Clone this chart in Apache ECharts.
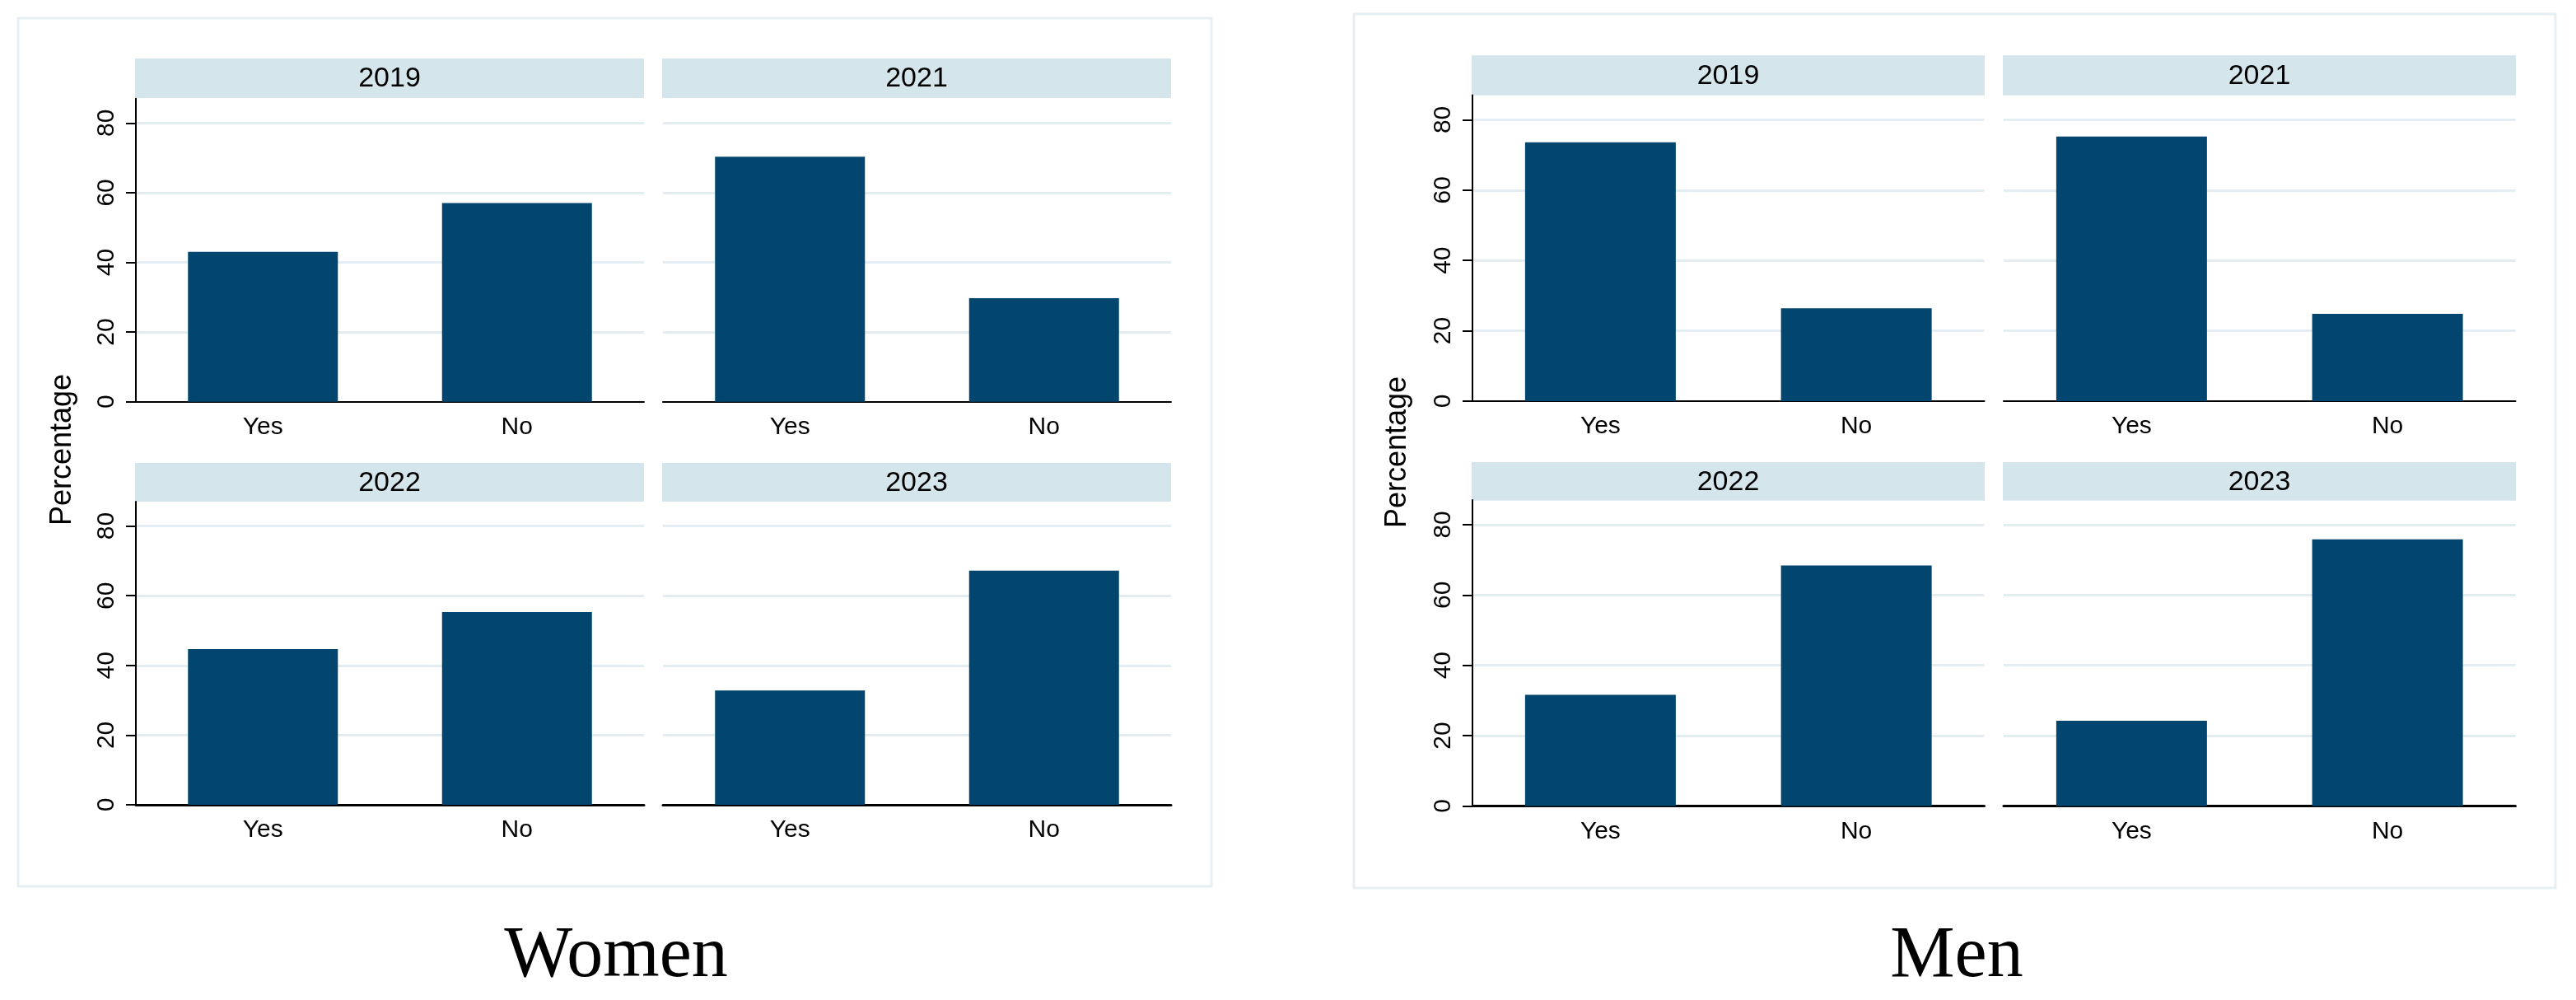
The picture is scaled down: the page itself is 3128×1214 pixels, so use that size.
<!DOCTYPE html>
<html>
<head>
<meta charset="utf-8">
<script src="https://cdn.jsdelivr.net/npm/echarts@6/dist/echarts.min.js"></script>
<style>
html,body{margin:0;padding:0;background:#fff;}
#c{width:3128px;height:1214px;}
</style>
</head>
<body>
<div id="c"></div>
<script>
// ---- data ----
const categories = ['Yes', 'No'];
const years = ['2019', '2021', '2022', '2023'];
const yTicks = [0, 20, 40, 60, 80];
const women2019 = [43.0, 57.0];
const women2021 = [70.3, 29.7];
const women2022 = [44.7, 55.3];
const women2023 = [32.8, 67.2];
const men2019 = [73.6, 26.4];
const men2021 = [75.2, 24.8];
const men2022 = [31.6, 68.4];
const men2023 = [24.2, 75.8];
const groupTitles = ['Women', 'Men'];
const yTitle = 'Percentage';

// ---- layout ----
const SANS = "'Liberation Sans', Arial, Helvetica, sans-serif";
const SERIF = "'Liberation Serif', 'Times New Roman', serif";
const BAR = '#02466f';
const GRIDC = '#e4edf1';
const STRIP = '#d5e5ec';
const BOX = '#e6eff3';
const YMAX = 87;

const groups = [
  { title: groupTitles[0], series: [women2019, women2021, women2022, women2023],
    box: [22, 22, 1449, 1054], titleX: 748, titleY: 1162,
    ytX: 76, ytY: 546,
    colX: [165, 805], colW: 617, rowTop: [119.7, 609], rowH: 368,
    stripX: [164, 804], stripW: 618, stripY: [71, 562], stripH: [48, 47], barW: 182 },
  { title: groupTitles[1], series: [men2019, men2021, men2022, men2023],
    box: [1644, 17, 1459, 1061], titleX: 2376, titleY: 1162,
    ytX: 1697, ytY: 549,
    colX: [1788, 2433], colW: 621.5, rowTop: [115.5, 607], rowH: 371.4,
    stripX: [1787, 2432], stripW: 623, stripY: [67.3, 561], stripH: [48.4, 46.7], barW: 183 }
];

const grid = [], xAxis = [], yAxis = [], series = [], graphic = [];
let idx = 0;
groups.forEach(g => {
  graphic.push({ type: 'rect', z: -10, shape: { x: g.box[0], y: g.box[1], width: g.box[2], height: g.box[3] },
    style: { fill: '#fff', stroke: BOX, lineWidth: 3 } });
  graphic.push({ type: 'text', x: g.titleX, y: g.titleY,
    style: { text: g.title, font: '88px ' + SERIF, fill: '#000', textAlign: 'center', textVerticalAlign: 'middle' } });
  graphic.push({ type: 'text', x: g.ytX, y: g.ytY, rotation: Math.PI / 2,
    style: { text: yTitle, font: '36px ' + SANS, fill: '#000', textAlign: 'center', textVerticalAlign: 'middle' } });
  for (let p = 0; p < 4; p++) {
    const r = Math.floor(p / 2), c = p % 2;
    grid.push({ left: g.colX[c], top: g.rowTop[r], width: g.colW, height: g.rowH, containLabel: false });
    graphic.push({ type: 'rect', z: -5, shape: { x: g.stripX[c], y: g.stripY[r], width: g.stripW, height: g.stripH[r] },
      style: { fill: STRIP } });
    graphic.push({ type: 'text', x: g.stripX[c] + g.stripW / 2, y: g.stripY[r] + g.stripH[r] / 2 + 1,
      style: { text: years[p], font: '34px ' + SANS, fill: '#000', textAlign: 'center', textVerticalAlign: 'middle' } });
    xAxis.push({ gridIndex: idx, type: 'category', data: categories, boundaryGap: true,
      axisLine: { show: true, lineStyle: { color: '#000', width: r === 0 ? 2 : 3 } },
      axisTick: { show: false },
      axisLabel: { fontSize: 30, fontFamily: SANS, color: '#000', margin: 16 } });
    const left = c === 0;
    yAxis.push({ gridIndex: idx, type: 'value', min: 0, max: YMAX, interval: 20,
      axisLine: { show: left, lineStyle: { color: '#000', width: 2 } },
      axisTick: { show: left, length: 12, lineStyle: { color: '#000', width: 2 }, customValues: yTicks },
      axisLabel: { show: left, rotate: 90, fontSize: 30, fontFamily: SANS, color: '#000', margin: 20,
        customValues: yTicks,
        formatter: v => (v % 20 === 0 ? String(v) : '') },
      splitLine: { show: true, showMinLine: false, lineStyle: { color: GRIDC, width: 3 } } });
    series.push({ type: 'bar', xAxisIndex: idx, yAxisIndex: idx, data: g.series[p], barWidth: g.barW,
      itemStyle: { color: BAR }, silent: true, animation: false });
    idx++;
  }
});

const chart = echarts.init(document.getElementById('c'), null, { renderer: 'canvas' });
chart.setOption({ backgroundColor: '#fff', animation: false, grid, xAxis, yAxis, series, graphic });
</script>
</body>
</html>
